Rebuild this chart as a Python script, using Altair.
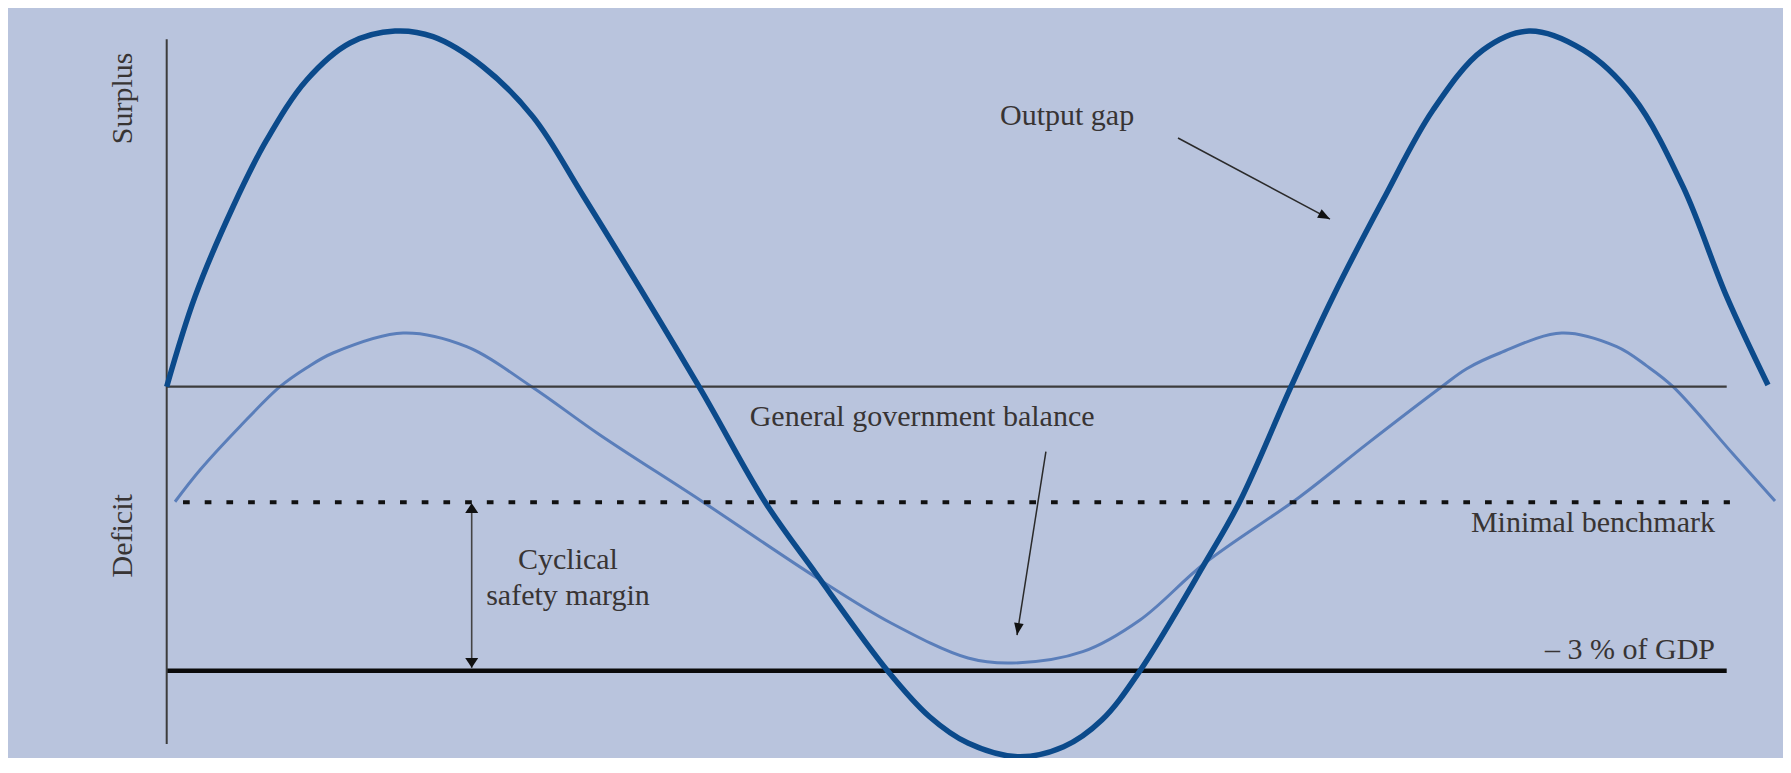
import altair as alt
import pandas as pd

W, H = 1775, 750

# ---- values: time in schematic units, balance in % of GDP ----
gap_t = [0, 0.354, 0.829, 1.25, 1.75, 2.291, 2.854, 3.329, 3.954, 4.579,
         5.204, 6.654, 7.479, 8.104, 9.01, 9.536, 10.016, 10.636, 11.211,
         11.689, 12.166, 12.979, 13.411, 14.054, 14.579, 15.204, 15.829, 16.454, 17.029,
         17.704, 18.329, 18.954, 19.5, 20.016]
gap_v = [0, 0.951, 1.901, 2.606, 3.240, 3.631, 3.757, 3.697, 3.380, 2.85,
         2.02, 0, -1.218, -1.96, -3.0, -3.486, -3.764, -3.908, -3.803,
         -3.521, -3.0, -1.862, -1.218, 0, 0.951, 1.972, 2.923, 3.557, 3.757,
         3.557, 3.063, 2.113, 0.951, 0.018]

bal_t = [0.104, 0.416, 0.916, 1.416, 1.75, 2.079, 2.954, 3.75, 4.5625, 5.416, 6.666,
         8.104, 9.054, 10.016, 10.566, 11.45, 12.166, 12.979, 14.166, 15.0, 15.9375,
         16.25, 16.666, 17.4375, 18.125, 18.5, 18.829, 19.579, 20.104]
bal_v = [-1.215, -0.88, -0.42, 0, 0.2, 0.356, 0.567, 0.423, 0, -0.510, -1.197,
         -2.007, -2.496, -2.866, -2.919, -2.799, -2.464, -1.862, -1.162, -0.606, 0,
         0.19, 0.356, 0.567, 0.423, 0.22, 0, -0.711, -1.207]

benchmark = -1.22
limit = -3.0
line_start = [0.0, 0.204, 0.0]
line_end = [19.5, 19.54, 19.5]
axis_top, axis_bottom = 3.67, -3.775

# annotation texts
label_text = ["Output gap", "General government balance", "Minimal benchmark",
              "\u2013 3 % of GDP", "Cyclical", "safety margin", "Surplus", "Deficit"]
label_t = [10.416, 7.2875, 19.354, 19.354, 5.016, 5.016, -0.4375, -0.4375]
label_v = [2.764, -0.415, -1.535, -2.88, -1.926, -2.306, 3.046, -1.575]

# annotation arrows (start, tip)
arrow_t = [12.641, 10.99]
arrow_v = [2.627, -0.687]
arrow_t2 = [14.541, 10.629]
arrow_v2 = [1.771, -2.623]
arrow_ang = [118, 189]
margin_t = 3.8125

# ---- layout scale (px per unit) ----
PX_T, PX_V = 80.0, 94.67
X0, Y0 = 158.7, 378.7
xs = alt.Scale(domain=[-X0 / PX_T, (W - X0) / PX_T], nice=False, zero=False)
ys = alt.Scale(domain=[-(H - Y0) / PX_V, Y0 / PX_V], nice=False, zero=False)

FONT = "Liberation Serif"
TXT = "#383434"


def X(f):
    return alt.X(f, scale=xs, axis=None)


def Y(f):
    return alt.Y(f, scale=ys, axis=None)


gap_df = pd.DataFrame({"t": gap_t, "v": gap_v})
bal_df = pd.DataFrame({"t": bal_t, "v": bal_v})

bal = alt.Chart(bal_df).mark_line(color="#5A7EBA", strokeWidth=3, interpolate="catmull-rom").encode(
    x=X("t:Q"), y=Y("v:Q"), order="t:Q")
gap = alt.Chart(gap_df).mark_line(color="#0B4A8B", strokeWidth=5.5, interpolate="catmull-rom").encode(
    x=X("t:Q"), y=Y("v:Q"), order="t:Q")

zero_df = pd.DataFrame({"t": [line_start[0]], "t2": [line_end[0]], "v": [0.0]})
bench_df = pd.DataFrame({"t": [line_start[1]], "t2": [line_end[1]], "v": [benchmark]})
limit_df = pd.DataFrame({"t": [line_start[2]], "t2": [line_end[2]], "v": [limit]})
axis_df = pd.DataFrame({"t": [0.0], "v": [axis_top], "v2": [axis_bottom]})

zero_line = alt.Chart(zero_df).mark_rule(color="#3c3c3c", strokeWidth=2.2).encode(
    x=X("t:Q"), x2="t2:Q", y=Y("v:Q"))
bench_line = alt.Chart(bench_df).mark_rule(color="#111111", strokeWidth=4, strokeDash=[6.7, 15]).encode(
    x=X("t:Q"), x2="t2:Q", y=Y("v:Q"))
limit_line = alt.Chart(limit_df).mark_rule(color="#0a0a0a", strokeWidth=4.5).encode(
    x=X("t:Q"), x2="t2:Q", y=Y("v:Q"))
axis_line = alt.Chart(axis_df).mark_rule(color="#3c3c3c", strokeWidth=2).encode(
    x=X("t:Q"), y=Y("v:Q"), y2="v2:Q")

lab = pd.DataFrame({"text": label_text, "t": label_t, "v": label_v})


def text_layer(idx, align, angle=0):
    m = alt.Chart(lab.iloc[idx]).mark_text(font=FONT, fontSize=30, color=TXT, align=align,
                                           baseline="alphabetic", angle=angle)
    return m.encode(x=X("t:Q"), y=Y("v:Q"), text="text:N")


t_left = text_layer([0, 1], "left")
t_right = text_layer([2, 3], "right")
t_center = text_layer([4, 5], "center")
t_rot = text_layer([6, 7], "center", angle=270)

arr_df = pd.DataFrame({"t": arrow_t, "v": arrow_v, "t2": arrow_t2, "v2": arrow_v2, "ang": arrow_ang})
arr_lines = alt.Chart(arr_df).mark_rule(color="#2a2a2a", strokeWidth=1.5).encode(
    x=X("t:Q"), y=Y("v:Q"), x2="t2:Q", y2="v2:Q")
arr_heads = alt.Chart(arr_df).mark_point(shape="M0,0 L-0.8,2 L0.8,2 Z", filled=True, size=144,
                                         color="#111111", opacity=1, strokeWidth=0).encode(
    x=X("t2:Q"), y=Y("v2:Q"), angle=alt.Angle("ang:Q", scale=None))

m_df = pd.DataFrame({"t": [margin_t], "v": [benchmark - 0.03], "v2": [limit + 0.03]})
m_line = alt.Chart(m_df).mark_rule(color="#444444", strokeWidth=1.6).encode(
    x=X("t:Q"), y=Y("v:Q"), y2="v2:Q")
mh_df = pd.DataFrame({"t": [margin_t, margin_t], "v": [benchmark - 0.01, limit + 0.03], "ang": [0, 180]})
m_heads = alt.Chart(mh_df).mark_point(shape="M0,0 L-1,1.5 L1,1.5 Z", filled=True, size=169,
                                      color="#111111", opacity=1, strokeWidth=0).encode(
    x=X("t:Q"), y=Y("v:Q"), angle=alt.Angle("ang:Q", scale=None))

chart = alt.layer(
    bal, zero_line, bench_line, limit_line, axis_line, gap,
    t_left, t_right, t_center, t_rot,
    arr_lines, arr_heads, m_line, m_heads,
).properties(
    width=W, height=H, background="#B9C4DD", padding=0,
    autosize=alt.AutoSizeParams(type="none"),
).configure_view(stroke=None)

chart.save("out.html", embed_options={"renderer": "svg", "actions": False})
